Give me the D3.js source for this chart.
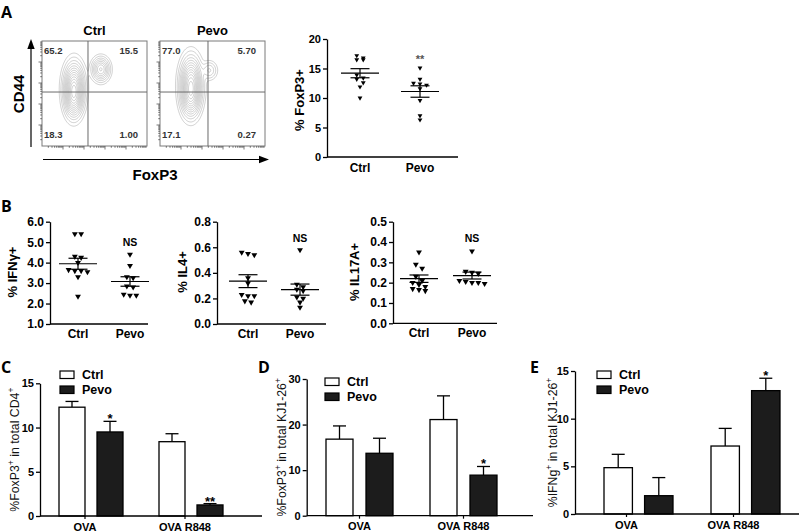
<!DOCTYPE html>
<html><head><meta charset="utf-8">
<script src="https://cdn.jsdelivr.net/npm/d3@7/dist/d3.min.js"></script>
<style>body{margin:0;background:#fff}svg{display:block}text{white-space:pre}</style>
</head><body>
<svg id="chart" width="800" height="532"></svg>
<script>
// ================= DATA =================
const groups = ["Ctrl", "Pevo"];
// Panel A: flow quadrant frequencies (UL, UR, LL, LR)
const flowQuadCtrl = ["65.2", "15.5", "18.3", "1.00"];
const flowQuadPevo = ["77.0", "5.70", "17.1", "0.27"];
// cell populations: [FoxP3 centre, CD44 centre, spread FoxP3, spread CD44, weight] in relative units (0-100)
const flowPopCtrl = [[30.5, 55, 4.8, 11.5, 1], [30, 44, 4.2, 9, 0.35], [56, 73, 4.2, 5.6, 0.45]];
const flowPopPevo = [[29.5, 58, 5, 12.5, 1], [29, 45, 4.4, 9, 0.3], [47, 72, 3.8, 4.5, 0.12]];
const flowGateCtrl = [43.8, 51.4];
const flowGatePevo = [45.7, 51.4];
// Panel A: % FoxP3+
const foxp3Ctrl = [17.2, 16.8, 16.5, 16.5, 13.9, 13.2, 13.4, 12.6, 11.9, 10.0];
const foxp3Pevo = [15.1, 13.2, 12.5, 12.4, 12.2, 11.6, 9.6, 7.0, 6.3];
// Panel B
const ifngCtrl = [5.4, 5.4, 4.3, 4.25, 4.0, 3.65, 3.6, 3.6, 3.55, 3.3, 2.35];
const ifngPevo = [4.4, 3.85, 3.3, 3.25, 2.85, 2.8, 2.45, 2.4, 2.4];
const il4Ctrl = [0.56, 0.55, 0.54, 0.36, 0.32, 0.23, 0.22, 0.22, 0.18, 0.17];
const il4Pevo = [0.58, 0.31, 0.29, 0.27, 0.26, 0.21, 0.20, 0.17, 0.13];
const il17Ctrl = [0.35, 0.29, 0.27, 0.23, 0.21, 0.20, 0.19, 0.18, 0.17, 0.165, 0.16];
const il17Pevo = [0.355, 0.255, 0.25, 0.245, 0.21, 0.205, 0.2, 0.2, 0.195];
// Panels C-E
const barCats = ["OVA", "OVA R848"];
const cCtrl = [12.3, 8.4],  cCtrlErr = [0.65, 0.9],  cPevo = [9.5, 1.25],  cPevoErr = [1.2, 0.15];
const dCtrl = [16.8, 21.1], dCtrlErr = [2.9, 5.2],   dPevo = [13.7, 8.9],  dPevoErr = [3.3, 1.9];
const eCtrl = [4.86, 7.13], eCtrlErr = [1.4, 1.85],  ePevo = [1.92, 12.94], ePevoErr = [1.9, 1.3];
const cSig = ["*", "**"], dSig = ["", "*"], eSig = ["", "*"];
const cTicks = [0, 5, 10, 15], dTicks = [0, 10, 20, 30], eTicks = [0, 5, 10, 15];

// ================= DRAWING =================
const svg = d3.select("#chart");
const FF = "'Liberation Sans', Arial, sans-serif";

function panelLabel(t, x, y) {
  svg.append("text").attr("x", x).attr("y", y).text(t)
    .attr("font-family", "'Open Sans', sans-serif").attr("font-weight", 700).attr("font-size", 16);
}
panelLabel("A", 1, 18); panelLabel("B", 1, 212); panelLabel("C", 1, 373); panelLabel("D", 258, 373); panelLabel("E", 530, 373);

function styleAxis(sel, fs) {
  sel.select(".domain").attr("stroke", "#000").attr("stroke-width", 1.3);
  sel.selectAll(".tick line").attr("stroke", "#000").attr("stroke-width", 1.3);
  sel.selectAll(".tick text").attr("font-family", FF).attr("font-weight", 700)
    .attr("font-size", fs).attr("fill", "#000");
}

// ---------- Flow plots ----------
function flowPlot(x0, title, quads, pops, gate) {
  const y0 = 41, w = 105, h = 105;
  const fx = d3.scaleLinear([0, 100], [x0, x0 + w]);
  const fy = d3.scaleLinear([0, 100], [y0 + h, y0]);
  const g = svg.append("g");
  const n = 150;
  const vals = new Array(n * n);
  for (let j = 0; j < n; j++) for (let i = 0; i < n; i++) {
    const rx = (i + 0.5) / n * 100, ry = 100 - (j + 0.5) / n * 100;
    let v = 0;
    for (const [cx, cy, sx, sy, wt] of pops)
      v += wt * Math.exp(-0.5 * (((rx - cx) / sx) ** 2 + ((ry - cy) / sy) ** 2));
    vals[j * n + i] = v;
  }
  const mx = d3.max(vals);
  const th = [0.012, 0.03, 0.06, 0.1, 0.15, 0.21, 0.28, 0.36, 0.45, 0.55, 0.66, 0.78, 0.9].map(t => t * mx);
  const cs = d3.contours().size([n, n]).thresholds(th)(vals);
  const path = d3.geoPath(d3.geoTransform({
    point(x, y) { this.stream.point(fx(x / n * 100), fy(100 - y / n * 100)); }
  }));
  g.selectAll(null).data(cs).join("path").attr("d", path)
    .attr("fill", "none").attr("stroke", "#9e9e9e").attr("stroke-width", 0.5);
  // box
  g.append("rect").attr("x", fx(0)).attr("y", fy(100)).attr("width", w).attr("height", h)
    .attr("fill", "none").attr("stroke", "#7a7a7a").attr("stroke-width", 1);
  // gates
  g.append("line").attr("x1", fx(gate[0])).attr("x2", fx(gate[0])).attr("y1", fy(0)).attr("y2", fy(100))
    .attr("stroke", "#6a6a6a").attr("stroke-width", 1);
  g.append("line").attr("x1", fx(0)).attr("x2", fx(100)).attr("y1", fy(gate[1])).attr("y2", fy(gate[1]))
    .attr("stroke", "#6a6a6a").attr("stroke-width", 1);
  // log-style ticks
  const ly = d3.scaleLog([1, 1e5], [y0 + h, y0]);
  const lx = d3.scaleLog([1, 1e5], [x0, x0 + w]);
  const tks = [];
  for (let k = 0; k < 5; k++) for (let m = 1; m < 10; m++) tks.push({ v: m * 10 ** k, major: m === 1 });
  g.selectAll(null).data(tks.filter(t => t.v > 1)).join("line")
    .attr("x1", fx(0)).attr("x2", d => fx(0) - (d.major ? 3.5 : 1.8))
    .attr("y1", d => ly(d.v)).attr("y2", d => ly(d.v)).attr("stroke", "#444").attr("stroke-width", 0.7);
  g.selectAll(null).data(tks.filter(t => t.v > 1)).join("line")
    .attr("y1", fy(0)).attr("y2", d => fy(0) + (d.major ? 3.5 : 1.8))
    .attr("x1", d => lx(d.v)).attr("x2", d => lx(d.v)).attr("stroke", "#444").attr("stroke-width", 0.7);
  // quadrant numbers
  const qf = { "font-family": "'Liberation Sans Narrow', 'Liberation Sans', Arial, sans-serif", "font-weight": 700, "font-size": 9.5, "fill": "#333" };
  const pos = [[fx(0) + 2, fy(100) + 13, "start"], [fx(100) - 9, fy(100) + 13, "end"],
               [fx(0) + 2, fy(0) - 8, "start"], [fx(100) - 9, fy(0) - 8, "end"]];
  quads.forEach((q, i) => {
    const t = g.append("text").attr("x", pos[i][0]).attr("y", pos[i][1]).attr("text-anchor", pos[i][2]).text(q);
    for (const k in qf) t.attr(k, qf[k]);
  });
  g.append("text").attr("x", fx(50)).attr("y", 35).attr("text-anchor", "middle").text(title)
    .attr("font-family", FF).attr("font-weight", 700).attr("font-size", 13);
}
flowPlot(42, "Ctrl", flowQuadCtrl, flowPopCtrl, flowGateCtrl);
flowPlot(160, "Pevo", flowQuadPevo, flowPopPevo, flowGatePevo);
// arrows
svg.append("line").attr("x1", 31).attr("x2", 31).attr("y1", 147).attr("y2", 47).attr("stroke", "#000").attr("stroke-width", 1.2);
svg.append("path").attr("d", "M31,39 L27.3,49 L34.7,49 Z").attr("fill", "#000");
svg.append("line").attr("x1", 43).attr("x2", 260).attr("y1", 159.5).attr("y2", 159.5).attr("stroke", "#000").attr("stroke-width", 1.2);
svg.append("path").attr("d", "M269,159.5 L259,155.8 L259,163.2 Z").attr("fill", "#000");
svg.append("text").attr("transform", "translate(18.5,94) rotate(-90)").attr("text-anchor", "middle")
  .attr("dy", "0.35em").text("CD44").attr("font-family", FF).attr("font-weight", 700).attr("font-size", 15);
svg.append("text").attr("x", 155).attr("y", 180).attr("text-anchor", "middle")
  .text("FoxP3").attr("font-family", FF).attr("font-weight", 700).attr("font-size", 15);

// ---------- Dot plots ----------
function swarm(vals, y, thr, sp) {
  const pts = vals.map(v => ({ v, py: y(v) })).sort((a, b) => a.py - b.py);
  const rows = [];
  pts.forEach(p => {
    const r = rows[rows.length - 1];
    if (r && p.py - r[0].py < thr) r.push(p); else rows.push([p]);
  });
  rows.forEach(r => r.forEach((p, i) => { p.dx = (i - (r.length - 1) / 2) * sp; }));
  return pts;
}
function dotPlot(o) {
  const y = d3.scaleLinear(o.domain, [o.y0, o.y1]);
  const x = d3.scalePoint(groups, o.xr);
  const g = svg.append("g");
  const ya = g.append("g").attr("transform", `translate(${o.ax},0)`)
    .call(d3.axisLeft(y).tickValues(o.ticks).tickFormat(d3.format(o.fmt)).tickSize(4).tickSizeOuter(0).tickPadding(2));
  styleAxis(ya, o.tfs);
  g.append("line").attr("x1", o.ax).attr("x2", o.end).attr("y1", y(o.domain[0])).attr("y2", y(o.domain[0]))
    .attr("stroke", "#000").attr("stroke-width", 1.3);
  groups.forEach((gname, gi) => {
    g.append("text").attr("x", x(gname)).attr("y", o.y0 + o.catDy).attr("text-anchor", "middle").text(gname)
      .attr("font-family", FF).attr("font-weight", 700).attr("font-size", 12);
    const vals = o.data[gi];
    const pts = swarm(vals, y, o.thr, o.sp);
    const sym = d3.symbol(d3.symbolTriangle, o.sym);
    g.selectAll(null).data(pts).join("path").attr("d", sym)
      .attr("transform", d => `translate(${x(gname) + d.dx},${d.py}) rotate(180)`).attr("fill", "#000");
    const m = d3.mean(vals), se = d3.deviation(vals) / Math.sqrt(vals.length);
    const cx = x(gname);
    g.append("line").attr("x1", cx - 19).attr("x2", cx + 19).attr("y1", y(m)).attr("y2", y(m)).attr("stroke", "#000").attr("stroke-width", 1.2);
    [m + se, m - se].forEach(v => g.append("line").attr("x1", cx - 9.5).attr("x2", cx + 9.5)
      .attr("y1", y(v)).attr("y2", y(v)).attr("stroke", "#000").attr("stroke-width", 1.2));
    g.append("line").attr("x1", cx).attr("x2", cx).attr("y1", y(m + se)).attr("y2", y(m - se)).attr("stroke", "#000").attr("stroke-width", 1.2);
  });
  g.append("text").attr("x", x("Pevo")).attr("y", o.sigY).attr("text-anchor", "middle").text(o.sig)
    .attr("font-family", FF).attr("font-weight", 700).attr("font-size", o.sigFs).attr("fill", o.sigFill);
  g.append("text").attr("transform", `translate(${o.lx},${o.ly}) rotate(-90)`).attr("text-anchor", "middle")
    .attr("dy", "0.35em").text(o.label).attr("font-family", FF).attr("font-weight", 700).attr("font-size", 13);
}
dotPlot({ ax: 327, y0: 157, y1: 39, domain: [0, 20], ticks: [0, 5, 10, 15, 20], fmt: "d", xr: [360, 420], end: 458,
  data: [foxp3Ctrl, foxp3Pevo], label: "% FoxP3+", lx: 299, ly: 100, sig: "**", sigY: 63, sigFs: 11, sigFill: "#555",
  sym: 10, thr: 4, sp: 6.5, tfs: 11, catDy: 15 });
dotPlot({ ax: 50, y0: 324, y1: 221.7, domain: [1, 6], ticks: [1, 2, 3, 4, 5, 6], fmt: ".1f", xr: [78, 130], end: 148,
  data: [ifngCtrl, ifngPevo], label: "% IFNγ+", lx: 12.5, ly: 272, sig: "NS", sigY: 245.5, sigFs: 10.5, sigFill: "#000",
  sym: 15, thr: 4.5, sp: 6.3, tfs: 12, catDy: 14 });
dotPlot({ ax: 217, y0: 324, y1: 221.7, domain: [0, 0.8], ticks: [0, 0.2, 0.4, 0.6, 0.8], fmt: ".1f", xr: [248, 300], end: 326,
  data: [il4Ctrl, il4Pevo], label: "% IL4+", lx: 182.5, ly: 272, sig: "NS", sigY: 241.5, sigFs: 10.5, sigFill: "#000",
  sym: 15, thr: 4.5, sp: 6.3, tfs: 12, catDy: 14 });
dotPlot({ ax: 393, y0: 323.3, y1: 221.7, domain: [0, 0.5], ticks: [0, 0.1, 0.2, 0.3, 0.4, 0.5], fmt: ".1f", xr: [419, 472], end: 497,
  data: [il17Ctrl, il17Pevo], label: "% IL17A+", lx: 354, ly: 272, sig: "NS", sigY: 241.5, sigFs: 10.5, sigFill: "#000",
  sym: 15, thr: 4.5, sp: 6.3, tfs: 12, catDy: 14 });

// ---------- Bar charts ----------
function barChart(o) {
  const y = d3.scaleLinear([0, o.max], [o.y0, o.y1]);
  const xg = d3.scaleBand(barCats, o.g);
  const xs = d3.scaleBand(groups, o.sub).paddingInner(o.pad);
  const g = svg.append("g");
  const series = [[o.ctrl, o.ctrlErr, "#fff"], [o.pevo, o.pevoErr, "#1c1c1c"]];
  series.forEach(([vals, errs, fill], si) => {
    const gname = groups[si];
    vals.forEach((v, ci) => {
      const bx = xg(barCats[ci]) + xs(gname), bw = xs.bandwidth(), cx = bx + bw / 2;
      const top = y(v + errs[ci]);
      g.append("line").attr("x1", cx).attr("x2", cx).attr("y1", y(v)).attr("y2", top).attr("stroke", "#000").attr("stroke-width", 1.3);
      g.append("line").attr("x1", cx - 6.5).attr("x2", cx + 6.5).attr("y1", top).attr("y2", top).attr("stroke", "#000").attr("stroke-width", 1.3);
      g.append("rect").attr("x", bx).attr("y", y(v)).attr("width", bw).attr("height", y(0) - y(v))
        .attr("fill", fill).attr("stroke", "#000").attr("stroke-width", 1.3);
      if (si === 1 && o.sig[ci]) {
        g.append("text").attr("x", cx).attr("y", top + 2).attr("text-anchor", "middle").text(o.sig[ci])
          .attr("font-family", FF).attr("font-weight", 700).attr("font-size", 13);
      }
    });
  });
  const ya = g.append("g").attr("transform", `translate(${o.ax},0)`)
    .call(d3.axisLeft(y).tickValues(o.ticks).tickFormat(d3.format("d")).tickSize(4).tickSizeOuter(0).tickPadding(2));
  styleAxis(ya, 11);
  g.append("line").attr("x1", o.ax).attr("x2", o.end).attr("y1", y(0)).attr("y2", y(0)).attr("stroke", "#000").attr("stroke-width", 1.3);
  barCats.forEach(c => {
    const cx = xg(c) + xg.bandwidth() / 2 + o.shift;
    g.append("line").attr("x1", cx).attr("x2", cx).attr("y1", y(0)).attr("y2", y(0) + 3).attr("stroke", "#000").attr("stroke-width", 1.2);
    g.append("text").attr("x", cx).attr("y", y(0) + 14.5).attr("text-anchor", "middle").text(c)
      .attr("font-family", FF).attr("font-weight", 700).attr("font-size", 11);
  });
  // legend
  groups.forEach((gname, i) => {
    const ly = o.leg[1] + i * 15;
    g.append("rect").attr("x", o.leg[0]).attr("y", ly).attr("width", 14).attr("height", 7.5)
      .attr("fill", series[i][2]).attr("stroke", "#000").attr("stroke-width", 1.2);
    g.append("text").attr("x", o.leg[0] + 22).attr("y", ly + 3.75).attr("dy", "0.35em").text(gname)
      .attr("font-family", FF).attr("font-weight", 700).attr("font-size", 12.5);
  });
  // y label with superscripts
  const t = g.append("text").attr("transform", `translate(${o.lx},${(o.y0 + o.y1) / 2}) rotate(-90)`)
    .attr("text-anchor", "middle").attr("dy", "0.35em")
    .attr("font-family", FF).attr("font-size", 12.3).attr("fill", "#111");
  let prevSup = false;
  o.label.forEach(([s, sup]) => {
    const sp = t.append("tspan").text(s);
    if (sup) { sp.attr("dy", -5).attr("font-size", 8.5); prevSup = true; }
    else if (prevSup) { sp.attr("dy", 5); prevSup = false; }
  });
}
barChart({ ax: 40, y0: 516, y1: 383.3, max: 15, ticks: cTicks, g: [41, 241], sub: [18, 82], pad: 0.316, end: 262, shift: -6,
  ctrl: cCtrl, ctrlErr: cCtrlErr, pevo: cPevo, pevoErr: cPevoErr, sig: cSig, leg: [60, 371], lx: 15,
  label: [["%FoxP3", 0], ["+", 1], [" in total CD4", 0], ["+", 1]] });
barChart({ ax: 306.7, y0: 515.7, y1: 379, max: 30, ticks: dTicks, g: [307.5, 515.5], sub: [18.5, 85.5], pad: 0.325, end: 533, shift: 0,
  ctrl: dCtrl, ctrlErr: dCtrlErr, pevo: dPevo, pevoErr: dPevoErr, sig: dSig, leg: [325, 378], lx: 282,
  label: [["%FoxP3", 0], ["+", 1], [" in total KJ1-26", 0], ["+", 1]] });
barChart({ ax: 575, y0: 514, y1: 371, max: 15, ticks: eTicks, g: [585, 799], sub: [19, 88], pad: 0.3, end: 799, shift: -12,
  ctrl: eCtrl, ctrlErr: eCtrlErr, pevo: ePevo, pevoErr: ePevoErr, sig: eSig, leg: [597, 371], lx: 553,
  label: [["%IFNg", 0], ["+", 1], [" in total KJ1-26", 0], ["+", 1]] });
</script>
</body></html>
